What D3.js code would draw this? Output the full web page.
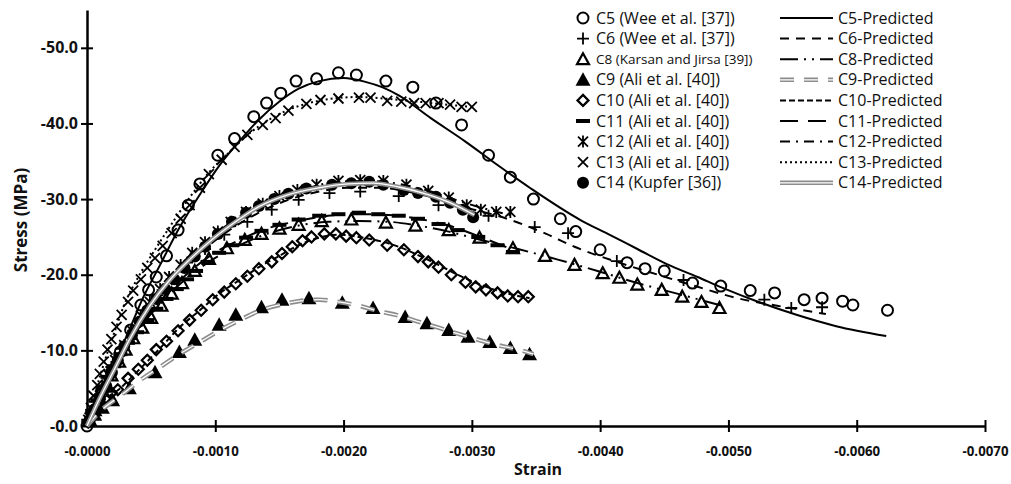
<!DOCTYPE html>
<html>
<head>
<meta charset="utf-8">
<script src="https://cdn.jsdelivr.net/npm/d3@7"></script>
<style>
  body { margin: 0; background: #fff; }
  svg { display: block; }
</style>
</head>
<body>
<div id="wrapper"></div>
<script>
// tick values (strain and stress are compressive, so both are negative)
const strainTicks = [0, -0.001, -0.002, -0.003, -0.004, -0.005, -0.006, -0.007];
const stressTicks = [0, -10, -20, -30, -40, -50];

// experimental data [strain, stress MPa]
const c5Exp = [[0,0],[-0.00006,-2.1],[-0.00012,-4.5],[-0.00019,-7.1],[-0.00026,-9.8],[-0.00034,-12.7],[-0.00042,-16.0],[-0.00048,-18.0],[-0.00054,-19.7],[-0.00062,-22.5],[-0.00071,-25.9],[-0.00079,-29.2],[-0.00088,-32.0],[-0.00102,-35.8],[-0.00115,-38.0],[-0.00130,-40.9],[-0.00140,-42.7],[-0.00151,-44.0],[-0.00163,-45.6],[-0.00179,-45.9],[-0.00196,-46.7],[-0.00210,-46.4],[-0.00233,-45.6],[-0.00254,-44.8],[-0.00272,-42.7],[-0.00292,-39.8],[-0.00313,-35.8],[-0.00330,-32.9],[-0.00348,-30.0],[-0.00369,-27.4],[-0.00381,-25.7],[-0.00400,-23.3],[-0.00421,-21.6],[-0.00435,-20.8],[-0.00450,-20.5],[-0.00472,-18.9],[-0.00494,-18.5],[-0.00517,-17.9],[-0.00536,-17.6],[-0.00559,-16.7],[-0.00573,-16.9],[-0.00589,-16.5],[-0.00597,-16.0],[-0.00624,-15.3]];
const c6Exp = [[-0.00001,-0.8],[-0.00006,-3.2],[-0.00012,-5.4],[-0.00019,-7.8],[-0.00027,-10.2],[-0.00036,-12.6],[-0.00045,-14.9],[-0.00055,-17.3],[-0.00066,-19.4],[-0.00078,-21.6],[-0.00092,-23.4],[-0.00107,-25.3],[-0.00125,-27.0],[-0.00144,-28.6],[-0.00165,-29.9],[-0.00189,-30.8],[-0.00213,-31.0],[-0.00243,-30.4],[-0.00274,-29.2],[-0.00313,-27.8],[-0.00349,-26.3],[-0.00375,-25.5],[-0.00413,-21.8],[-0.00465,-19.3],[-0.00528,-16.7],[-0.00549,-15.6],[-0.00573,-15.7]];
const c8Exp = [[-0.00002,-0.8],[-0.00006,-2.1],[-0.00010,-3.6],[-0.00015,-5.2],[-0.00019,-6.7],[-0.00025,-8.5],[-0.00030,-10.1],[-0.00036,-11.6],[-0.00043,-13.0],[-0.00050,-14.3],[-0.00058,-15.9],[-0.00066,-17.5],[-0.00074,-18.9],[-0.00084,-20.5],[-0.00095,-22.1],[-0.00109,-23.5],[-0.00123,-24.6],[-0.00136,-25.4],[-0.00150,-26.1],[-0.00165,-26.6],[-0.00183,-27.1],[-0.00206,-27.3],[-0.00233,-26.9],[-0.00256,-26.5],[-0.00282,-25.9],[-0.00306,-24.9],[-0.00332,-23.5],[-0.00357,-22.5],[-0.00380,-21.3],[-0.00402,-20.2],[-0.00415,-19.6],[-0.00429,-18.7],[-0.00448,-18.0],[-0.00464,-17.1],[-0.00479,-16.4],[-0.00493,-15.6]];
const c9Exp = [[-0.00002,-0.7],[-0.00006,-1.5],[-0.00012,-2.4],[-0.00020,-3.4],[-0.00033,-5.0],[-0.00053,-7.1],[-0.00072,-9.8],[-0.00084,-11.4],[-0.00103,-13.4],[-0.00116,-14.7],[-0.00136,-15.7],[-0.00152,-16.7],[-0.00173,-16.9],[-0.00199,-16.3],[-0.00223,-15.6],[-0.00248,-14.4],[-0.00265,-13.6],[-0.00282,-12.7],[-0.00297,-11.8],[-0.00314,-11.1],[-0.00330,-10.3],[-0.00345,-9.5]];
const c10Exp = [[-0.00001,-0.5],[-0.00005,-1.6],[-0.00009,-2.6],[-0.00014,-3.6],[-0.00019,-4.4],[-0.00024,-4.8],[-0.00032,-6.3],[-0.00040,-7.5],[-0.00047,-8.7],[-0.00054,-10.1],[-0.00062,-11.2],[-0.00071,-12.6],[-0.00080,-14.0],[-0.00089,-15.3],[-0.00098,-16.7],[-0.00107,-17.7],[-0.00116,-18.8],[-0.00125,-19.8],[-0.00134,-20.8],[-0.00144,-21.7],[-0.00152,-22.8],[-0.00160,-23.7],[-0.00168,-24.5],[-0.00175,-25.0],[-0.00185,-25.4],[-0.00194,-25.4],[-0.00202,-25.1],[-0.00210,-24.9],[-0.00220,-24.6],[-0.00234,-23.9],[-0.00247,-23.3],[-0.00258,-22.4],[-0.00266,-21.7],[-0.00274,-21.0],[-0.00284,-20.0],[-0.00295,-19.0],[-0.00303,-18.4],[-0.00311,-18.0],[-0.00320,-17.6],[-0.00328,-17.2],[-0.00336,-17.1],[-0.00344,-17.1]];
const c11Exp = [[-0.00001,-0.7],[-0.00004,-2.0],[-0.00008,-3.4],[-0.00012,-4.9],[-0.00016,-6.5],[-0.00021,-7.9],[-0.00026,-9.5],[-0.00032,-11.0],[-0.00039,-12.4],[-0.00047,-14.0],[-0.00054,-15.5],[-0.00062,-16.8],[-0.00070,-18.1],[-0.00078,-19.4],[-0.00085,-20.5],[-0.00094,-21.7],[-0.00103,-22.9],[-0.00113,-23.9],[-0.00124,-24.9],[-0.00136,-25.8],[-0.00150,-26.6],[-0.00165,-27.3],[-0.00181,-27.8],[-0.00196,-28.0],[-0.00212,-28.2],[-0.00227,-28.0],[-0.00243,-27.8],[-0.00258,-27.4],[-0.00274,-26.7],[-0.00289,-25.9],[-0.00305,-25.0],[-0.00320,-23.9],[-0.00332,-23.0]];
const c12Exp = [[-0.00002,-1.1],[-0.00007,-2.9],[-0.00012,-4.8],[-0.00017,-6.7],[-0.00022,-8.7],[-0.00029,-10.7],[-0.00035,-12.6],[-0.00042,-14.6],[-0.00049,-16.4],[-0.00057,-18.1],[-0.00064,-19.7],[-0.00073,-21.3],[-0.00082,-22.9],[-0.00092,-24.3],[-0.00102,-25.7],[-0.00112,-27.0],[-0.00124,-28.3],[-0.00137,-29.4],[-0.00150,-30.4],[-0.00164,-31.2],[-0.00179,-31.9],[-0.00196,-32.4],[-0.00213,-32.5],[-0.00231,-32.4],[-0.00249,-31.9],[-0.00266,-31.1],[-0.00282,-30.2],[-0.00296,-29.2],[-0.00307,-28.6],[-0.00319,-28.3],[-0.00330,-28.3]];
const c13Exp = [[-0.00001,-0.8],[-0.00003,-2.4],[-0.00005,-4.0],[-0.00008,-5.4],[-0.00010,-6.9],[-0.00013,-8.5],[-0.00016,-10.1],[-0.00019,-11.5],[-0.00023,-13.1],[-0.00027,-14.7],[-0.00032,-16.4],[-0.00036,-17.9],[-0.00042,-19.4],[-0.00047,-20.9],[-0.00053,-22.2],[-0.00059,-23.8],[-0.00066,-25.5],[-0.00073,-27.4],[-0.00080,-29.2],[-0.00088,-31.5],[-0.00095,-33.3],[-0.00105,-35.2],[-0.00115,-36.9],[-0.00125,-38.5],[-0.00137,-39.8],[-0.00147,-40.7],[-0.00157,-41.7],[-0.00171,-42.6],[-0.00182,-43.1],[-0.00196,-43.3],[-0.00212,-43.4],[-0.00221,-43.4],[-0.00234,-43.0],[-0.00245,-42.9],[-0.00255,-42.7],[-0.00264,-42.7],[-0.00274,-42.7],[-0.00283,-42.5],[-0.00292,-42.2],[-0.00300,-42.2]];
const c14Exp = [[-0.00002,-0.8],[-0.00006,-2.2],[-0.00010,-3.7],[-0.00015,-5.3],[-0.00019,-7.0],[-0.00024,-8.7],[-0.00029,-10.5],[-0.00035,-12.0],[-0.00041,-13.8],[-0.00047,-15.3],[-0.00054,-16.8],[-0.00061,-18.1],[-0.00068,-19.4],[-0.00076,-20.9],[-0.00084,-22.4],[-0.00092,-23.7],[-0.00102,-25.4],[-0.00113,-27.0],[-0.00124,-28.2],[-0.00134,-29.1],[-0.00146,-30.0],[-0.00157,-30.7],[-0.00171,-31.4],[-0.00191,-31.9],[-0.00206,-32.1],[-0.00220,-32.3],[-0.00231,-31.9],[-0.00247,-31.2],[-0.00258,-30.8],[-0.00272,-30.3],[-0.00283,-29.5],[-0.00293,-28.6],[-0.00301,-27.6]];

// predicted curves
const c5Pred = [[0,0],[-0.00010,-4.0],[-0.00022,-8.5],[-0.00033,-12.7],[-0.00043,-16.7],[-0.00057,-21.3],[-0.00072,-26.2],[-0.00088,-30.6],[-0.00103,-34.4],[-0.00119,-37.7],[-0.00134,-40.5],[-0.00150,-42.9],[-0.00165,-44.6],[-0.00181,-45.6],[-0.00200,-46.0],[-0.00217,-45.5],[-0.00230,-44.8],[-0.00243,-43.7],[-0.00268,-40.7],[-0.00295,-37.6],[-0.00320,-34.5],[-0.00346,-31.4],[-0.00385,-27.2],[-0.00406,-25.4],[-0.00429,-23.4],[-0.00452,-21.4],[-0.00476,-19.7],[-0.00495,-18.3],[-0.00522,-16.5],[-0.00553,-14.7],[-0.00584,-13.2],[-0.00623,-11.9]];
const c6Pred = [[0,0],[-0.00010,-4.2],[-0.00022,-8.5],[-0.00033,-12.0],[-0.00049,-16.0],[-0.00068,-19.8],[-0.00088,-22.9],[-0.00111,-25.9],[-0.00134,-28.2],[-0.00157,-29.9],[-0.00181,-31.0],[-0.00204,-31.5],[-0.00227,-31.5],[-0.00250,-31.0],[-0.00274,-30.0],[-0.00297,-28.8],[-0.00320,-27.8],[-0.00358,-25.4],[-0.00380,-23.7],[-0.00413,-21.7],[-0.00445,-20.0],[-0.00476,-18.4],[-0.00507,-16.9],[-0.00538,-15.9],[-0.00576,-14.8]];
const c8Pred = [[0,0],[-0.00010,-3.7],[-0.00026,-8.7],[-0.00041,-13.0],[-0.00057,-16.1],[-0.00076,-19.3],[-0.00095,-21.7],[-0.00119,-23.9],[-0.00142,-25.5],[-0.00165,-26.5],[-0.00188,-27.0],[-0.00212,-27.1],[-0.00235,-27.0],[-0.00258,-26.5],[-0.00282,-25.7],[-0.00305,-24.7],[-0.00336,-23.4],[-0.00367,-22.0],[-0.00398,-20.5],[-0.00429,-18.9],[-0.00460,-17.5],[-0.00495,-15.9]];
const c9Pred = [[0,0],[-0.00010,-1.9],[-0.00026,-4.0],[-0.00041,-6.0],[-0.00057,-7.8],[-0.00072,-9.5],[-0.00088,-11.1],[-0.00103,-12.6],[-0.00119,-14.0],[-0.00134,-15.2],[-0.00150,-16.0],[-0.00165,-16.5],[-0.00181,-16.7],[-0.00196,-16.4],[-0.00212,-15.9],[-0.00227,-15.2],[-0.00243,-14.6],[-0.00258,-13.8],[-0.00274,-13.0],[-0.00289,-12.2],[-0.00305,-11.4],[-0.00320,-10.7],[-0.00336,-10.1],[-0.00348,-9.5]];
const c10Pred = [[0,0],[-0.00010,-2.8],[-0.00026,-5.0],[-0.00041,-7.5],[-0.00057,-10.3],[-0.00072,-13.0],[-0.00088,-15.3],[-0.00103,-17.5],[-0.00119,-19.3],[-0.00134,-21.0],[-0.00150,-22.5],[-0.00165,-23.9],[-0.00181,-24.9],[-0.00196,-25.3],[-0.00212,-25.0],[-0.00227,-24.5],[-0.00243,-23.7],[-0.00258,-22.6],[-0.00274,-21.3],[-0.00289,-20.0],[-0.00305,-18.8],[-0.00320,-17.9],[-0.00336,-17.2],[-0.00345,-16.9]];
const c11Pred = [[0,0],[-0.00010,-3.8],[-0.00026,-9.1],[-0.00041,-13.2],[-0.00057,-16.5],[-0.00076,-19.8],[-0.00095,-22.4],[-0.00119,-24.6],[-0.00142,-26.2],[-0.00165,-27.1],[-0.00188,-27.8],[-0.00212,-28.0],[-0.00235,-27.9],[-0.00258,-27.4],[-0.00282,-26.5],[-0.00305,-25.1],[-0.00332,-23.3]];
const c12Pred = [[0,0],[-0.00010,-4.0],[-0.00022,-8.1],[-0.00033,-11.8],[-0.00049,-16.3],[-0.00064,-19.7],[-0.00084,-23.1],[-0.00103,-25.8],[-0.00126,-28.4],[-0.00150,-30.3],[-0.00173,-31.5],[-0.00196,-32.3],[-0.00220,-32.4],[-0.00243,-32.0],[-0.00266,-31.1],[-0.00289,-29.8],[-0.00313,-28.6],[-0.00332,-27.8]];
const c13Pred = [[0,0],[-0.00006,-4.1],[-0.00014,-8.7],[-0.00022,-12.7],[-0.00029,-16.0],[-0.00041,-20.0],[-0.00053,-23.3],[-0.00064,-26.2],[-0.00080,-30.2],[-0.00095,-33.5],[-0.00111,-36.2],[-0.00126,-38.6],[-0.00142,-40.5],[-0.00157,-41.8],[-0.00173,-42.7],[-0.00192,-43.3],[-0.00212,-43.5],[-0.00231,-43.3],[-0.00251,-43.0],[-0.00274,-42.6],[-0.00299,-42.2]];
const c14Pred = [[0,0],[-0.00010,-3.7],[-0.00022,-7.7],[-0.00033,-11.4],[-0.00049,-15.9],[-0.00064,-19.2],[-0.00080,-22.0],[-0.00095,-24.3],[-0.00115,-26.9],[-0.00134,-29.0],[-0.00157,-30.6],[-0.00181,-31.5],[-0.00204,-32.0],[-0.00223,-32.1],[-0.00243,-31.6],[-0.00262,-30.8],[-0.00282,-29.6],[-0.00302,-27.9]];

const expNames = ['C5 (Wee et al. [37])', 'C6 (Wee et al. [37])', 'C8 (Karsan and Jirsa [39])', 'C9 (Ali et al. [40])', 'C10 (Ali et al. [40])', 'C11 (Ali et al. [40])', 'C12 (Ali et al. [40])', 'C13 (Ali et al. [40])', 'C14 (Kupfer [36])'];
const predNames = ['C5-Predicted', 'C6-Predicted', 'C8-Predicted', 'C9-Predicted', 'C10-Predicted', 'C11-Predicted', 'C12-Predicted', 'C13-Predicted', 'C14-Predicted'];

const expData = [c5Exp, c6Exp, c8Exp, c9Exp, c10Exp, c11Exp, c12Exp, c13Exp, c14Exp];
const predData = [c5Pred, c6Pred, c8Pred, c9Pred, c10Pred, c11Pred, c12Pred, c13Pred, c14Pred];
const markers = ['circle', 'plus', 'triangle', 'triangleFill', 'diamond', 'bar', 'asterisk', 'times', 'dot'];
const lineStyles = [
  { dash: null },
  { dash: '9,7' },
  { dash: '18,6,2,6,2,6' },
  { dash: '14,10', double: true },
  { dash: '6,3' },
  { dash: '18,10' },
  { dash: '10,6,2,6' },
  { dash: '2,3' },
  { dash: null, double: true },
];

const width = 1011;
const height = 484;

const svg = d3.select('#wrapper').append('svg')
  .attr('width', width)
  .attr('height', height)
  .style('font-family', '"Open Sans", sans-serif');

const xScale = d3.scaleLinear().domain([0, -0.007]).range([87, 985]);
const yScale = d3.scaleLinear().domain([0, -55]).range([426, 10]);

// axes
const xAxis = svg.append('g')
  .attr('transform', `translate(0,${yScale(0)})`)
  .call(d3.axisBottom(xScale).tickValues(strainTicks).tickSizeOuter(0).tickSizeInner(6).tickPadding(14)
    .tickFormat(d => '-' + Math.abs(d).toFixed(4)));
xAxis.selectAll('.tick line').attr('y1', -6).attr('y2', 6).attr('stroke-width', 2);

const yAxis = svg.append('g')
  .attr('transform', `translate(${xScale(0)},0)`)
  .call(d3.axisLeft(yScale).tickValues(stressTicks).tickSizeOuter(0).tickSizeInner(6).tickPadding(3)
    .tickFormat(d => '-' + Math.abs(d).toFixed(1)));
yAxis.selectAll('.tick line').attr('x1', -6).attr('x2', 6).attr('stroke-width', 2);

[xAxis, yAxis].forEach(ax => {
  ax.select('.domain').attr('stroke-width', 2.5);
  ax.selectAll('.tick text')
    .attr('fill', '#111')
    .style('font-size', '16px')
    .style('font-weight', 'bold')
    .style('font-family', '"Open Sans", sans-serif');
});
// the strain labels are condensed in the original
xAxis.selectAll('.tick text')
  .style('font-size', '13.5px')
  .attr('textLength', 46)
  .attr('lengthAdjust', 'spacingAndGlyphs');
xAxis.selectAll('.tick').filter(d => d === 0).select('line').remove();

svg.append('text')
  .attr('x', 538).attr('y', 475)
  .attr('text-anchor', 'middle')
  .style('font-size', '16px').style('font-weight', 'bold')
  .attr('fill', '#111')
  .text('Strain');

svg.append('text')
  .attr('transform', 'translate(27,220) rotate(-90)')
  .attr('text-anchor', 'middle')
  .style('font-size', '17px').style('font-weight', 'bold')
  .attr('fill', '#111')
  .text('Stress (MPa)');

// marker drawing
function drawMarker(g, type) {
  if (type === 'circle') {
    g.append('circle').attr('r', 5.5).attr('fill', 'none').attr('stroke', '#000').attr('stroke-width', 2);
  } else if (type === 'dot') {
    g.append('circle').attr('r', 6).attr('fill', '#000');
  } else if (type === 'plus') {
    g.append('path').attr('d', 'M-6,0H6M0,-6V6').attr('stroke', '#000').attr('stroke-width', 1.8);
  } else if (type === 'times') {
    g.append('path').attr('d', 'M-5,-5L5,5M-5,5L5,-5').attr('stroke', '#000').attr('stroke-width', 1.8);
  } else if (type === 'asterisk') {
    g.append('path').attr('d', 'M-5,-5L5,5M-5,5L5,-5M0,-6V6').attr('stroke', '#000').attr('stroke-width', 1.8);
  } else if (type === 'triangle') {
    g.append('path').attr('d', 'M0,-6L6,5H-6Z').attr('fill', 'none').attr('stroke', '#000').attr('stroke-width', 2.2);
  } else if (type === 'triangleFill') {
    g.append('path').attr('d', 'M0,-7.5L7.5,6H-7.5Z').attr('fill', '#000');
  } else if (type === 'diamond') {
    g.append('path').attr('d', 'M0,-5.5L5.5,0L0,5.5L-5.5,0Z').attr('fill', 'none').attr('stroke', '#000').attr('stroke-width', 2.2);
  } else if (type === 'bar') {
    g.append('rect').attr('x', -7).attr('y', -2).attr('width', 14).attr('height', 4).attr('fill', '#000');
  }
}

function drawLine(g, path, style) {
  if (style.double) {
    g.append('path').attr('d', path).attr('fill', 'none')
      .attr('stroke', '#8c8c8c').attr('stroke-width', 4.5).attr('stroke-dasharray', style.dash);
    g.append('path').attr('d', path).attr('fill', 'none')
      .attr('stroke', '#fff').attr('stroke-width', 1.3).attr('stroke-dasharray', style.dash);
  } else {
    g.append('path').attr('d', path).attr('fill', 'none')
      .attr('stroke', '#000').attr('stroke-width', 2).attr('stroke-dasharray', style.dash);
  }
}

const plot = svg.append('g');

// experimental markers
expData.forEach((data, i) => {
  plot.append('g').selectAll('g').data(data).join('g')
    .attr('transform', d => `translate(${xScale(d[0])},${yScale(d[1])})`)
    .each(function () { drawMarker(d3.select(this), markers[i]); });
});

// predicted curves
const line = d3.line()
  .x(d => xScale(d[0]))
  .y(d => yScale(d[1]))
  .curve(d3.curveMonotoneX);

predData.forEach((data, i) => {
  drawLine(plot.append('g'), line(data), lineStyles[i]);
});

// legend
const legend = svg.append('g');
const rowY = i => 18 + i * 20.6;

expNames.forEach((name, i) => {
  const row = legend.append('g').attr('transform', `translate(0,${rowY(i)})`);
  drawMarker(row.append('g').attr('transform', 'translate(583,0)'), markers[i]);
  row.append('text')
    .attr('x', 596).attr('y', 0).attr('dy', '0.35em')
    .style('font-size', i === 2 ? '13.5px' : '16px')
    .attr('fill', '#111')
    .text(name);
});

predNames.forEach((name, i) => {
  const row = legend.append('g').attr('transform', `translate(0,${rowY(i)})`);
  drawLine(row, 'M780,0H833', lineStyles[i]);
  row.append('text')
    .attr('x', 838).attr('y', 0).attr('dy', '0.35em')
    .style('font-size', '16px')
    .attr('fill', '#111')
    .text(name);
});
</script>
</body>
</html>
